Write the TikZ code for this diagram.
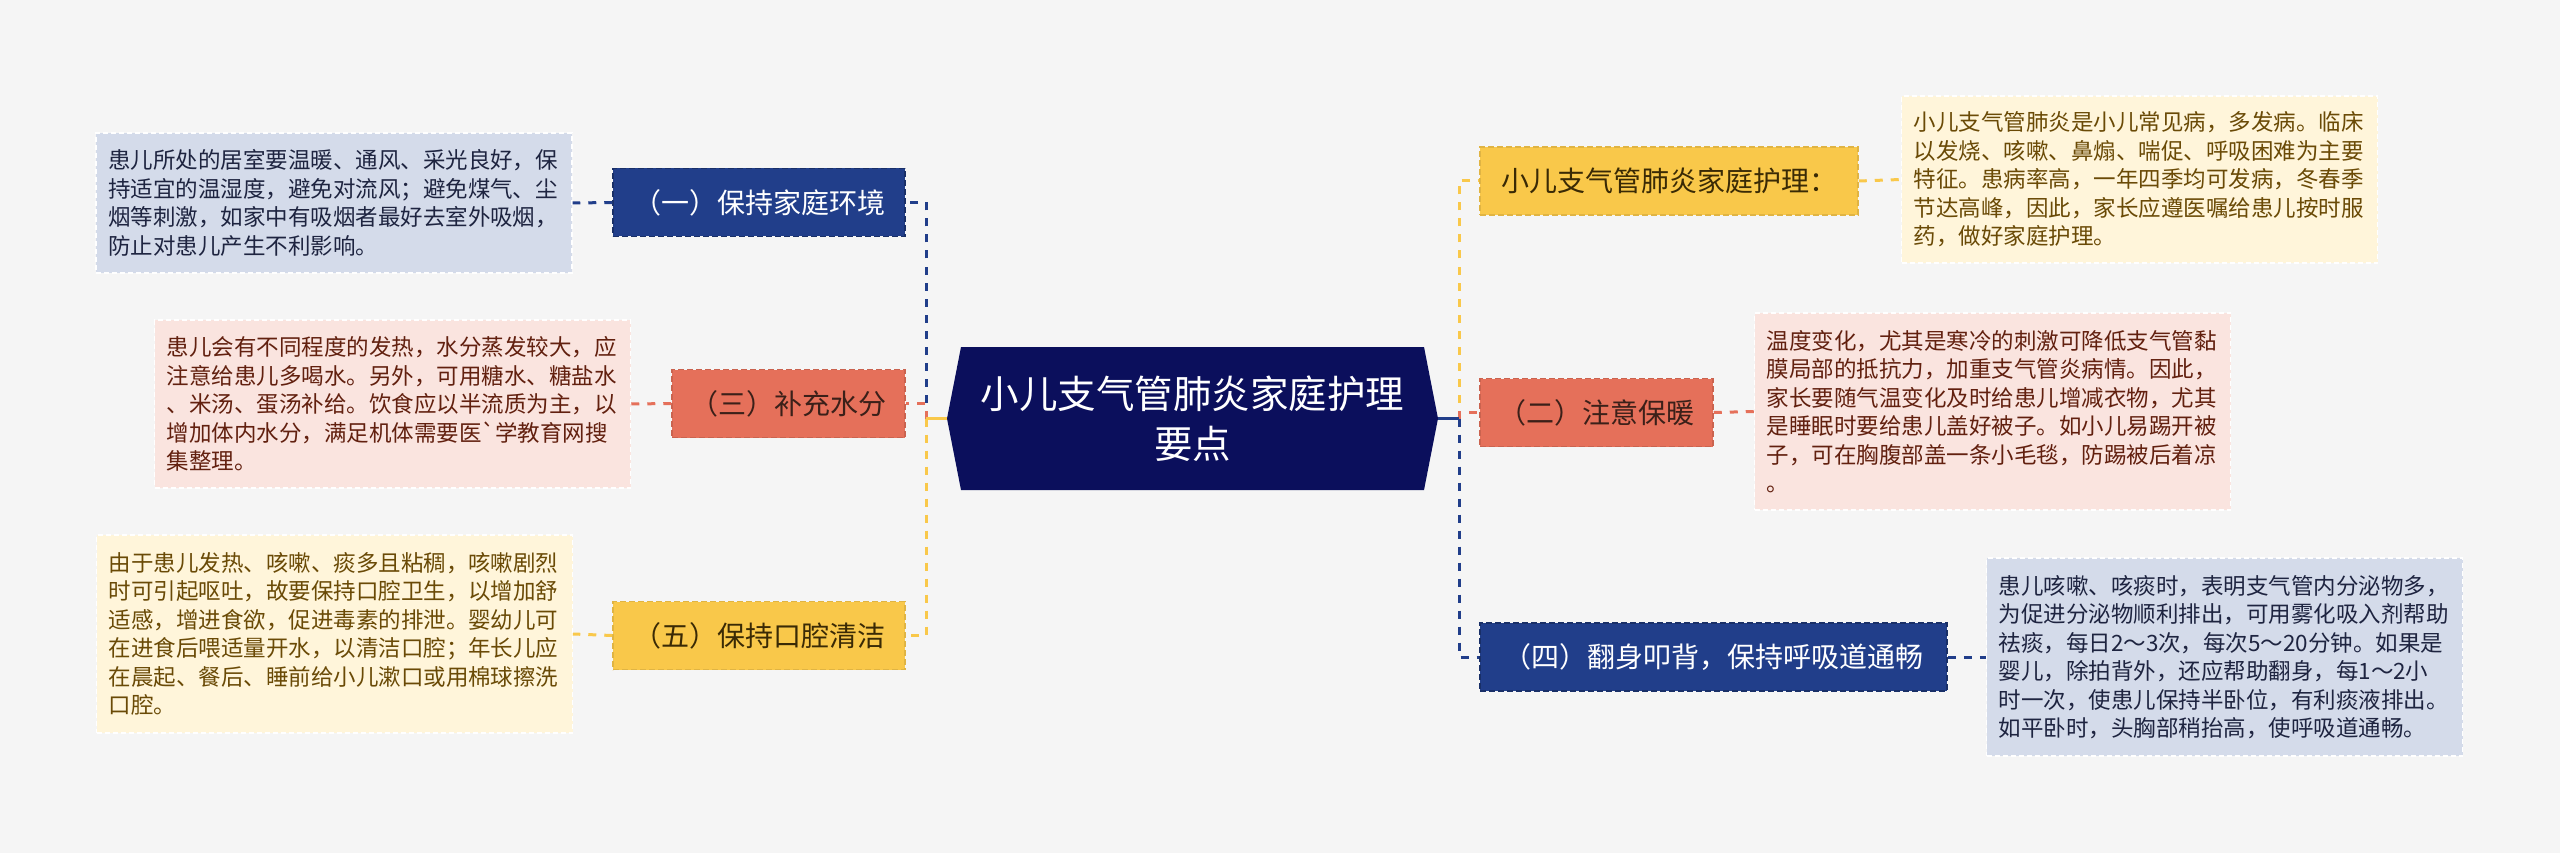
\documentclass[tikz,border=0pt]{standalone}
\usepackage{fontspec}
\newfontfamily\cjk{Noto Sans CJK SC}
\definecolor{bgc}{HTML}{F5F5F5}
\definecolor{navyc}{HTML}{213E8A}
\definecolor{centerc}{HTML}{0B0F5C}
\definecolor{salmonc}{HTML}{E5705A}
\definecolor{goldc}{HTML}{F9C84A}
\definecolor{descblue}{HTML}{D4DBEA}
\definecolor{descpink}{HTML}{FAE4DF}
\definecolor{descyel}{HTML}{FFF5DA}
\definecolor{txtnavy}{HTML}{1E2440}
\definecolor{txtred}{HTML}{62200F}
\definecolor{txtbrown}{HTML}{6A4A06}
\definecolor{txtdarkred}{HTML}{3B2019}
\definecolor{txtdarkgold}{HTML}{3A2A05}
\begin{document}
\begin{tikzpicture}[x=1pt,y=-1pt,
  topic/.style={rectangle, inner sep=0pt, minimum height=68pt, line width=1.5pt, dash pattern=on 6pt off 3pt, font=\cjk\fontsize{28}{34}\selectfont},
  navybox/.style={topic, fill=navyc, draw=navyc!75!black, text=white},
  salmonbox/.style={topic, fill=salmonc, draw=salmonc!88!black, text=txtdarkred},
  goldbox/.style={topic, fill=goldc, draw=goldc!90!black, text=txtdarkgold},
  desc/.style={rectangle, inner sep=0pt, minimum width=476pt, text width=452pt, align=left, draw=white, line width=1.2pt, dash pattern=on 5pt off 3pt, font=\cjk\fontsize{22.5}{28.5}\selectfont},
  descb/.style={desc, fill=descblue, text=txtnavy},
  descp/.style={desc, fill=descpink, text=txtred},
  descy/.style={desc, fill=descyel, text=txtbrown},
  conn/.style={line width=3pt, dash pattern=on 8pt off 8pt},
  stub/.style={line width=3pt}
]
\fill[bgc] (0,0) rectangle (2560,853);
\useasboundingbox (0,0) rectangle (2560,853);

% central topic
\fill[centerc] (961,347) -- (1424,347) -- (1438,418.5) -- (1424,490) -- (961,490) -- (947,418.5) -- cycle;
\node[rectangle, inner sep=0pt, minimum width=491pt, minimum height=143pt, align=center, text=white,
      font=\cjk\fontsize{38.5}{50}\selectfont] (ctr) at (1192.5,418.5) {小儿支气管肺炎家庭护理\\要点};

% left topics
\node[navybox, minimum width=292pt] (a) at (759,202.5) {（一）保持家庭环境};
\node[salmonbox, minimum width=233pt] (c) at (788.5,403.5) {（三）补充水分};
\node[goldbox, minimum width=292pt] (e) at (759,635.5) {（五）保持口腔清洁};

% right topics
\node[goldbox, minimum width=378pt] (r1) at (1669,181) {小儿支气管肺炎家庭护理：};
\node[salmonbox, minimum width=233pt] (r2) at (1596.5,412.5) {（二）注意保暖};
\node[navybox, minimum width=467pt] (r4) at (1713.5,657) {（四）翻身叩背，保持呼吸道通畅};

% descriptions
\node[descb, minimum height=140pt] (da) at (334,203) {患儿所处的居室要温暖、通风、采光良好，保\\持适宜的温湿度，避免对流风；避免煤气、尘\\烟等刺激，如家中有吸烟者最好去室外吸烟，\\防止对患儿产生不利影响。};
\node[descp, minimum height=168pt] (dc) at (392.5,404) {患儿会有不同程度的发热，水分蒸发较大，应\\注意给患儿多喝水。另外，可用糖水、糖盐水\\、米汤、蛋汤补给。饮食应以半流质为主，以\\增加体内水分，满足机体需要医\textasciigrave 学教育网搜\\集整理。};
\node[descy, minimum height=198pt] (de) at (334.5,634) {由于患儿发热、咳嗽、痰多且粘稠，咳嗽剧烈\\时可引起呕吐，故要保持口腔卫生，以增加舒\\适感，增进食欲，促进毒素的排泄。婴幼儿可\\在进食后喂适量开水，以清洁口腔；年长儿应\\在晨起、餐后、睡前给小儿漱口或用棉球擦洗\\口腔。};
\node[descy, minimum height=167pt] (dr1) at (2139.5,179.5) {小儿支气管肺炎是小儿常见病，多发病。临床\\以发烧、咳嗽、鼻煽、喘促、呼吸困难为主要\\特征。患病率高，一年四季均可发病，冬春季\\节达高峰，因此，家长应遵医嘱给患儿按时服\\药，做好家庭护理。};
\node[descp, minimum height=197pt] (dr2) at (1992.5,411.5) {温度变化，尤其是寒冷的刺激可降低支气管黏\\膜局部的抵抗力，加重支气管炎病情。因此，\\家长要随气温变化及时给患儿增减衣物，尤其\\是睡眠时要给患儿盖好被子。如小儿易踢开被\\子，可在胸腹部盖一条小毛毯，防踢被后着凉\\。};
\node[descb, minimum height=198pt] (dr4) at (2224.5,657) {患儿咳嗽、咳痰时，表明支气管内分泌物多，\\为促进分泌物顺利排出，可用雾化吸入剂帮助\\祛痰，每日2～3次，每次5～20分钟。如果是\\婴儿，除拍背外，还应帮助翻身，每1～2小\\时一次，使患儿保持半卧位，有利痰液排出。\\如平卧时，头胸部稍抬高，使呼吸道通畅。};

% junctions
\coordinate (jl) at (926,418.5);
\coordinate (jr) at (1459,418.5);

% left connectors
\draw[conn, navyc] (jl) |- (a.east);
\draw[conn, salmonc] (jl) |- (c.east);
\draw[conn, goldc] (jl) |- (e.east);
\draw[stub, goldc] (ctr.west) -- (jl);

% right connectors
\draw[conn, goldc] (jr) |- (r1.west);
\draw[conn, salmonc] (jr) |- (r2.west);
\draw[conn, navyc] (jr) |- (r4.west);
\draw[stub, navyc] (ctr.east) -- (jr);

% topic to description
\draw[conn, navyc] (a.west) -- (da.east);
\draw[conn, salmonc] (c.west) -- (dc.east);
\draw[conn, goldc] (e.west) -- (de.east);
\draw[conn, goldc] (r1.east) -- (dr1.west);
\draw[conn, salmonc] (r2.east) -- (dr2.west);
\draw[conn, navyc] (r4.east) -- (dr4.west);
\end{tikzpicture}
\end{document}
